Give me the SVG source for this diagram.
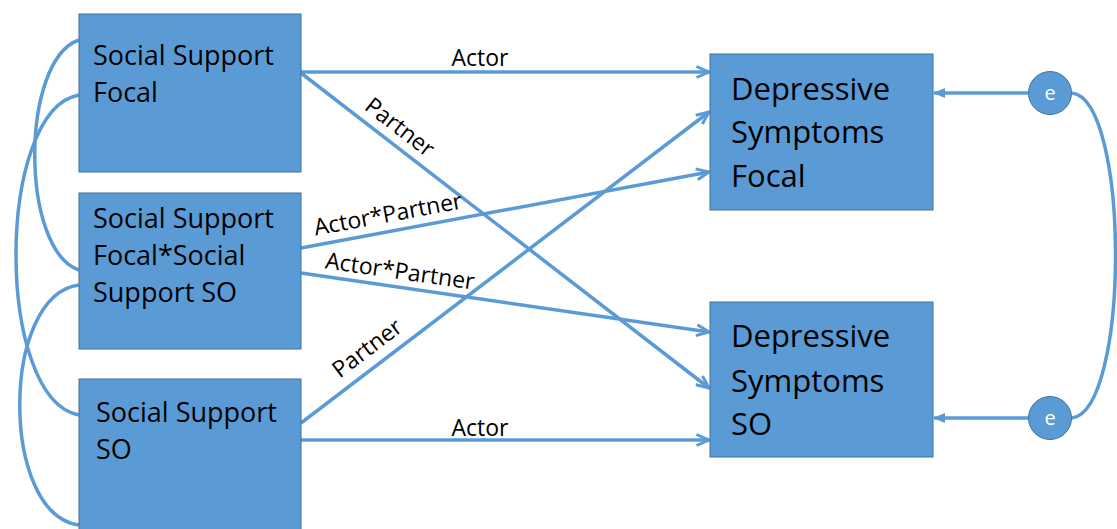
<svg xmlns="http://www.w3.org/2000/svg" width="1117" height="529" viewBox="0 0 1117 529">
<defs>
<marker id="arr" viewBox="0 0 16 14" refX="14" refY="7" markerWidth="16" markerHeight="14" markerUnits="userSpaceOnUse" orient="auto">
<path d="M1.5,1.5 L14,7 L1.5,12.5" fill="none" stroke="#5B9BD5" stroke-width="3" stroke-linejoin="miter"/>
</marker>
<marker id="tri" viewBox="0 0 12 10" refX="11" refY="5" markerWidth="12" markerHeight="10" markerUnits="userSpaceOnUse" orient="auto">
<path d="M0,0 L12,5 L0,10 Z" fill="#5B9BD5"/>
</marker>
<style>
.box{fill:#5B9BD5;stroke:#41719C;stroke-width:1}
.t{font-family:"Open Sans","Liberation Sans",sans-serif;fill:#000}
.lt{font-size:27px}
.rt{font-size:31px}
.lbl{font-family:"Open Sans","Liberation Sans",sans-serif;font-size:23px;fill:#000;text-anchor:middle}
.c{fill:none;stroke:#5B9BD5;stroke-width:3.5}
.e{fill:#5B9BD5;stroke:#41719C;stroke-width:1}
.et{font-family:"Open Sans","Liberation Sans",sans-serif;font-size:20px;fill:#fff;text-anchor:middle}
</style>
</defs>
<g id="connectors">
<path class="c" d="M79,40 C20,60 20,250 79,270"/>
<path class="c" d="M79,95 C-5,110 -5,400 79,415"/>
<path class="c" d="M79,285 C0,295 0,515 79,525"/>
<path class="c" d="M1072,93 C1130,100 1130,410 1072,418"/>
<line class="c" x1="301" y1="72" x2="709" y2="72" marker-end="url(#arr)"/>
<line class="c" x1="301" y1="73" x2="709" y2="388" marker-end="url(#arr)"/>
<line class="c" x1="301" y1="248" x2="709" y2="172" marker-end="url(#arr)"/>
<line class="c" x1="301" y1="273" x2="709" y2="332" marker-end="url(#arr)"/>
<line class="c" x1="301" y1="423" x2="709" y2="112" marker-end="url(#arr)"/>
<line class="c" x1="301" y1="440" x2="709" y2="440" marker-end="url(#arr)"/>
<line class="c" x1="1028" y1="93" x2="934" y2="93" marker-end="url(#tri)"/>
<line class="c" x1="1028" y1="418" x2="934" y2="418" marker-end="url(#tri)"/>
<text class="lbl" x="480" y="66">Actor</text>
<text class="lbl" transform="translate(400,127) rotate(37.6)" dy="0.35em">Partner</text>
<text class="lbl" transform="translate(388,214) rotate(-10.5)" dy="0.35em">Actor*Partner</text>
<text class="lbl" transform="translate(400,271) rotate(8.2)" dy="0.35em">Actor*Partner</text>
<text class="lbl" transform="translate(367,348) rotate(-37.2)" dy="0.35em">Partner</text>
<text class="lbl" x="480" y="436">Actor</text>
</g>
<g id="ss-focal">
<rect class="box" x="79" y="14" width="222" height="158"/>
<text class="t lt" x="93" y="65">Social Support</text>
<text class="t lt" x="93" y="102">Focal</text>
</g>
<g id="ss-interaction">
<rect class="box" x="79" y="193" width="222" height="156"/>
<text class="t lt" x="93" y="228">Social Support</text>
<text class="t lt" x="93" y="265">Focal*Social</text>
<text class="t lt" x="93" y="302">Support SO</text>
</g>
<g id="ss-so">
<rect class="box" x="79" y="379" width="222" height="155"/>
<text class="t lt" x="96" y="422">Social Support</text>
<text class="t lt" x="96" y="459">SO</text>
</g>
<g id="dep-focal">
<rect class="box" x="710" y="54" width="223" height="156"/>
<text class="t rt" x="731" y="100">Depressive</text>
<text class="t rt" x="731" y="143">Symptoms</text>
<text class="t rt" x="731" y="187">Focal</text>
</g>
<g id="dep-so">
<rect class="box" x="710" y="302" width="223" height="155"/>
<text class="t rt" x="731" y="347">Depressive</text>
<text class="t rt" x="731" y="392">Symptoms</text>
<text class="t rt" x="731" y="435">SO</text>
</g>
<g id="e-focal">
<circle class="e" cx="1050" cy="93" r="21.5"/>
<text class="et" x="1050" y="100">e</text>
</g>
<g id="e-so">
<circle class="e" cx="1050" cy="418" r="21.5"/>
<text class="et" x="1050" y="425">e</text>
</g>
</svg>
